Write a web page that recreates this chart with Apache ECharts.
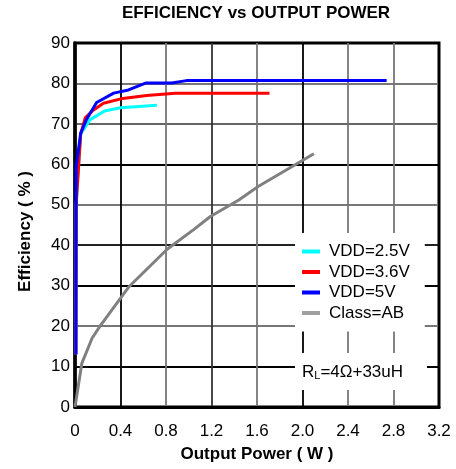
<!DOCTYPE html>
<html>
<head>
<meta charset="utf-8">
<script src="https://cdn.jsdelivr.net/npm/echarts@6/dist/echarts.min.js"></script>
<style>
  html, body { margin: 0; padding: 0; background: #fff; }
  #chart { width: 456px; height: 469px; }
</style>
</head>
<body>
<div id="chart"></div>
<script>
// 数据 (Output Power W, Efficiency %)
var vdd25 = [[0.008, 13], [0.01, 50], [0.05, 67.5], [0.13, 71], [0.26, 73.2], [0.40, 74.0], [0.72, 74.6]];
var vdd36 = [[0.008, 13], [0.01, 50], [0.05, 67.5], [0.09, 71.5], [0.16, 73.4], [0.25, 75.1], [0.42, 76.3], [0.63, 77.0], [0.88, 77.6], [1.71, 77.6]];
var vdd5 = [[0.008, 13], [0.01, 59.4], [0.05, 67.7], [0.10, 71], [0.19, 75.3], [0.34, 77.6], [0.47, 78.4], [0.62, 80.1], [0.85, 80.1], [0.98, 80.7], [2.74, 80.7]];
var classAB = [[0, 0], [0.06, 10.8], [0.15, 17], [0.22, 20], [0.47, 29.6], [0.81, 39], [1.04, 43.8], [1.19, 47.1], [1.44, 51.2], [1.61, 54.5], [2.10, 62.6]];

var seriesNames = ["VDD=2.5V", "VDD=3.6V", "VDD=5V", "Class=AB"];
var xTickLabels = ["0", "0.4", "0.8", "1.2", "1.6", "2.0", "2.4", "2.8", "3.2"];
var yTickLabels = ["0", "10", "20", "30", "40", "50", "60", "70", "80", "90"];

var font = "Liberation Sans, Arial, sans-serif";
var colors = ["#00ffff", "#ff0000", "#0000ff", "#808080"];
var legendColors = ["#00ffff", "#ff0000", "#0000ff", "#a0a0a0"];

var chart = echarts.init(document.getElementById("chart"), null, { renderer: "canvas" });

function makeSeries(name, data, color) {
  return {
    name: name,
    type: "line",
    data: data,
    symbol: "none",
    smooth: false,
    lineStyle: { color: color, width: 3 },
    itemStyle: { color: color }
  };
}

chart.setOption({
  backgroundColor: "#fff",
  animation: false,
  textStyle: { fontFamily: font },
  title: {
    text: "EFFICIENCY vs OUTPUT POWER",
    left: 256,
    top: 5,
    padding: 0,
    textAlign: "center",
    textStyle: { fontFamily: font, fontSize: 17, fontWeight: "bold", color: "#000" }
  },
  grid: {
    left: 75,
    right: 17,
    top: 43,
    bottom: 62,
    show: true,
    borderColor: "#000",
    borderWidth: 3
  },
  legend: {
    orient: "vertical",
    left: 295,
    top: 233,
    padding: [10, 15, 10, 7],
    itemGap: 3.5,
    itemWidth: 18,
    itemHeight: 4,
    backgroundColor: "#fff",
    z: 10,
    data: seriesNames.map(function (n, i) {
      return { name: n, icon: "rect", itemStyle: { color: legendColors[i] } };
    }),
    textStyle: { fontFamily: font, fontSize: 17, color: "#000", padding: [0, 0, 0, 4] }
  },
  graphic: [
    {
      type: "rect",
      z: 100,
      shape: { x: 295, y: 353, width: 132, height: 37 },
      style: { fill: "#fff" }
    },
    {
      type: "text",
      z: 101,
      x: 302,
      y: 372,
      style: {
        text: "{r|R}{s|L}{r|=4Ω+33uH}",
        verticalAlign: "middle",
        rich: {
          r: { fontFamily: font, fontSize: 17, fill: "#000", color: "#000" },
          s: { fontFamily: font, fontSize: 11, fill: "#000", color: "#000", padding: [8, 0, 0, 0] }
        }
      }
    }
  ],
  xAxis: {
    type: "value",
    min: 0,
    max: 3.2,
    interval: 0.4,
    name: "Output Power ( W )",
    nameLocation: "middle",
    nameGap: 39,
    nameTextStyle: { fontFamily: font, fontSize: 17, fontWeight: "bold", color: "#000" },
    axisLine: { show: true, lineStyle: { color: "#000", width: 3 } },
    axisTick: { show: false },
    axisLabel: {
      fontFamily: font,
      fontSize: 17,
      color: "#000",
      margin: 16,
      formatter: function (v) {
        return xTickLabels[Math.round(v / 0.4)];
      }
    },
    splitLine: {
      show: true,
      lineStyle: {
        width: 1.8,
        color: ["#000", "#000", "#777", "#333", "#777", "#000", "#777", "#777", "#000"]
      }
    }
  },
  yAxis: {
    type: "value",
    min: 0,
    max: 90,
    interval: 10,
    name: "Efficiency ( % )",
    nameLocation: "middle",
    nameGap: 41,
    nameTextStyle: { fontFamily: font, fontSize: 17, fontWeight: "bold", color: "#000", padding: [0, 13, 0, 0] },
    axisLine: { show: true, lineStyle: { color: "#000", width: 3.5 } },
    axisTick: { show: false },
    axisLabel: {
      fontFamily: font,
      fontSize: 17,
      color: "#000",
      margin: 5,
      formatter: function (v) {
        return yTickLabels[Math.round(v / 10)];
      }
    },
    splitLine: {
      show: true,
      lineStyle: {
        width: 1.8,
        color: ["#000", "#000", "#777", "#000", "#222", "#777", "#000", "#666", "#777", "#000"]
      }
    }
  },
  series: [
    makeSeries(seriesNames[0], vdd25, colors[0]),
    makeSeries(seriesNames[1], vdd36, colors[1]),
    makeSeries(seriesNames[2], vdd5, colors[2]),
    makeSeries(seriesNames[3], classAB, colors[3])
  ]
});
</script>
</body>
</html>
